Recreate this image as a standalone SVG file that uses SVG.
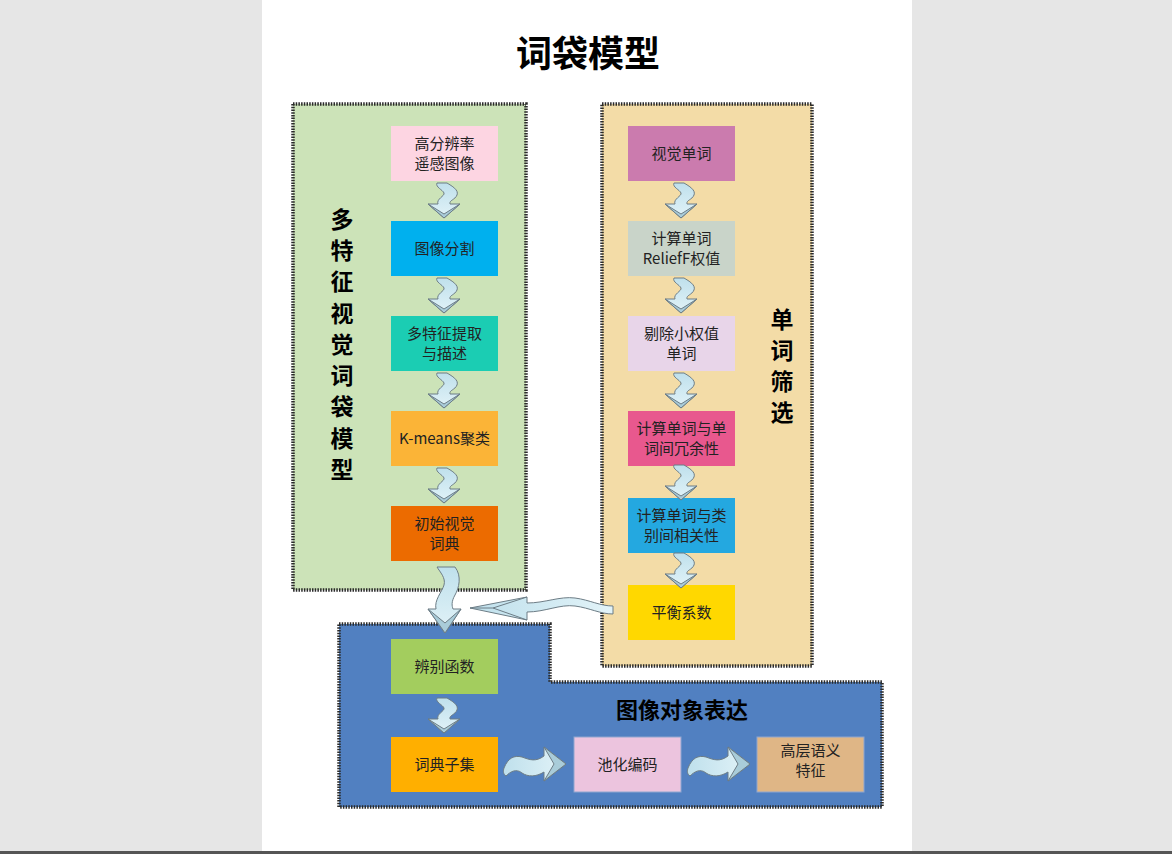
<svg xmlns="http://www.w3.org/2000/svg" width="1172" height="854" viewBox="0 0 1172 854">
<defs>
<style>
.bt{font-family:"Noto Sans CJK SC","Microsoft YaHei",sans-serif;font-size:15px;fill:#222;text-anchor:middle}
.vt{font-family:"Noto Sans CJK SC",sans-serif;font-size:23px;font-weight:bold;fill:#000;text-anchor:middle}
.frame{stroke:#2a2a2a;stroke-width:3.5;stroke-dasharray:1.5,1.2}
.arr{fill:url(#ag);stroke:#6d7d86;stroke-width:1}
.side{fill:#a9ccd9;stroke:#6d7d86;stroke-width:1}
</style>
<linearGradient id="ag" x1="0" y1="0" x2="0" y2="1">
<stop offset="0" stop-color="#bfe0ec"/>
<stop offset="1" stop-color="#e2f3f8"/>
</linearGradient>
<linearGradient id="agh" x1="0" y1="0" x2="1" y2="0">
<stop offset="0" stop-color="#bfe0ec"/>
<stop offset="1" stop-color="#e2f3f8"/>
</linearGradient>
<g id="dn">
<path class="arr" d="M -7,0 L 3,0 C 8,3 15,7 13,12 C 11,17 5,17 6,21 L 16,21 L 0,35 L -16,21 L -6,21 C -8,16 1,13 0,10 C -1,7 -9,4 -7,0 Z"/>
<path class="side" d="M -16,21 L 0,31 L 16,21 L 0,35 Z"/>
</g>
<g id="rt">
<path d="M 0,4 C 4,-6 10,-9 18,-7 C 26,-4 32,-2 40,-8 L 40,-17 L 62,0 L 40,17 L 40,8 C 32,13 24,13 18,9 C 12,4 6,8 2,12 C -1,10 -1,7 0,4 Z" fill="url(#agh)" stroke="#6d7d86" stroke-width="1"/>
<path class="side" d="M 40,-17 L 50,0 L 40,17 L 62,0 Z"/>
</g>
</defs>
<rect width="1172" height="854" fill="#e6e6e6"/>
<rect x="262" y="0" width="650" height="852" fill="#ffffff"/>
<rect x="0" y="851" width="1172" height="3" fill="#555"/>
<text x="588" y="67" font-family="Noto Sans CJK SC,sans-serif" font-size="36" font-weight="bold" text-anchor="middle" fill="#000">词袋模型</text>

<g id="panel-left">
<rect x="293" y="104" width="233" height="486" fill="#cce3b8" class="frame"/>
<text class="vt" x="342" y="228">多</text>
<text class="vt" x="342" y="259">特</text>
<text class="vt" x="342" y="290">征</text>
<text class="vt" x="342" y="322">视</text>
<text class="vt" x="342" y="353">觉</text>
<text class="vt" x="342" y="384">词</text>
<text class="vt" x="342" y="415">袋</text>
<text class="vt" x="342" y="447">模</text>
<text class="vt" x="342" y="478">型</text>
</g>
<g id="panel-right">
<rect x="602" y="104" width="210" height="562" fill="#f3dca7" class="frame"/>
<text class="vt" x="782" y="328">单</text>
<text class="vt" x="782" y="359">词</text>
<text class="vt" x="782" y="390">筛</text>
<text class="vt" x="782" y="421">选</text>
</g>
<g id="panel-bottom">
<path d="M 339,624 L 550,624 L 550,682 L 882,682 L 882,807 L 339,807 Z" fill="#5180c1" class="frame"/>
<text x="682" y="718" font-family="Noto Sans CJK SC,sans-serif" font-size="22" font-weight="bold" text-anchor="middle" fill="#000">图像对象表达</text>
</g>

<g id="n1"><rect x="391" y="126" width="107" height="55" fill="#fdd5e2"/><text class="bt" x="444.5" y="149">高分辨率</text><text class="bt" x="444.5" y="169">遥感图像</text></g>
<g id="n2"><rect x="391" y="221" width="107" height="55" fill="#00b0ee"/><text class="bt" x="444.5" y="254">图像分割</text></g>
<g id="n3"><rect x="391" y="316" width="107" height="55" fill="#1bcdb3"/><text class="bt" x="444.5" y="339">多特征提取</text><text class="bt" x="444.5" y="359">与描述</text></g>
<g id="n4"><rect x="391" y="411" width="107" height="55" fill="#fbb437"/><text class="bt" x="444.5" y="444">K-means聚类</text></g>
<g id="n5"><rect x="391" y="506" width="107" height="55" fill="#ec6b00"/><text class="bt" x="444.5" y="529">初始视觉</text><text class="bt" x="444.5" y="549">词典</text></g>

<g id="r1"><rect x="628" y="126" width="107" height="55" fill="#cb7bae"/><text class="bt" x="681.5" y="159">视觉单词</text></g>
<g id="r2"><rect x="628" y="221" width="107" height="55" fill="#c9d4c9"/><text class="bt" x="681.5" y="244">计算单词</text><text class="bt" x="681.5" y="264">ReliefF权值</text></g>
<g id="r3"><rect x="628" y="316" width="107" height="55" fill="#e8d5e9"/><text class="bt" x="681.5" y="339">剔除小权值</text><text class="bt" x="681.5" y="359">单词</text></g>
<g id="r4"><rect x="628" y="411" width="107" height="55" fill="#e8588e"/><text class="bt" x="681.5" y="434">计算单词与单</text><text class="bt" x="681.5" y="454">词间冗余性</text></g>
<g id="r5"><rect x="628" y="498" width="107" height="55" fill="#24a8e0"/><text class="bt" x="681.5" y="521">计算单词与类</text><text class="bt" x="681.5" y="541">别间相关性</text></g>
<g id="r6"><rect x="628" y="585" width="107" height="55" fill="#ffd800"/><text class="bt" x="681.5" y="618">平衡系数</text></g>

<g id="b1"><rect x="391" y="639" width="107" height="55" fill="#a3cd5e"/><text class="bt" x="444.5" y="672">辨别函数</text></g>
<g id="b2"><rect x="391" y="737" width="107" height="55" fill="#ffaf00"/><text class="bt" x="444.5" y="770">词典子集</text></g>
<g id="b3"><rect x="574" y="737" width="107" height="55" fill="#ecc4de" stroke="#8fa6d0" stroke-width="1"/><text class="bt" x="627.5" y="770">池化编码</text></g>
<g id="b4"><rect x="757" y="737" width="107" height="55" fill="#dfb686" stroke="#8fa6d0" stroke-width="1"/><text class="bt" x="810.5" y="756">高层语义</text><text class="bt" x="810.5" y="776">特征</text></g>

<g id="connectors">
<use href="#dn" x="444" y="183"/>
<use href="#dn" x="444" y="278"/>
<use href="#dn" x="444" y="373"/>
<use href="#dn" x="444" y="468"/>
<use href="#dn" x="681" y="183"/>
<use href="#dn" x="681" y="278"/>
<use href="#dn" x="681" y="373"/>
<use href="#dn" x="681" y="465"/>
<use href="#dn" x="681" y="553"/>
<use href="#dn" x="444" y="698"/>
<use href="#rt" x="504" y="764"/>
<use href="#rt" x="688" y="764"/>
<path class="arr" d="M 437,567 L 455,567 C 462,576 459,588 455,595 C 451,602 452,606 453,609 L 461,609 L 445,633 L 428,609 L 436,609 C 434,600 442,592 444,585 C 446,578 440,572 437,567 Z"/>
<path class="side" d="M 428,609 L 445,623 L 461,609 L 445,633 Z"/>
<path d="M 470,608 L 527,597 L 527,603 C 545,603 560,596 575,598 C 590,600 600,606 613,606 L 613,614 C 600,614 590,608 575,606 C 560,604 545,612 527,612 L 527,620 Z" fill="url(#agh)" stroke="#6d7d86" stroke-width="1"/>
<path d="M 470,608 L 493,608 L 527,597 M 493,608 L 527,620" fill="none" stroke="#6d7d86" stroke-width="1"/>
</g>
</svg>
